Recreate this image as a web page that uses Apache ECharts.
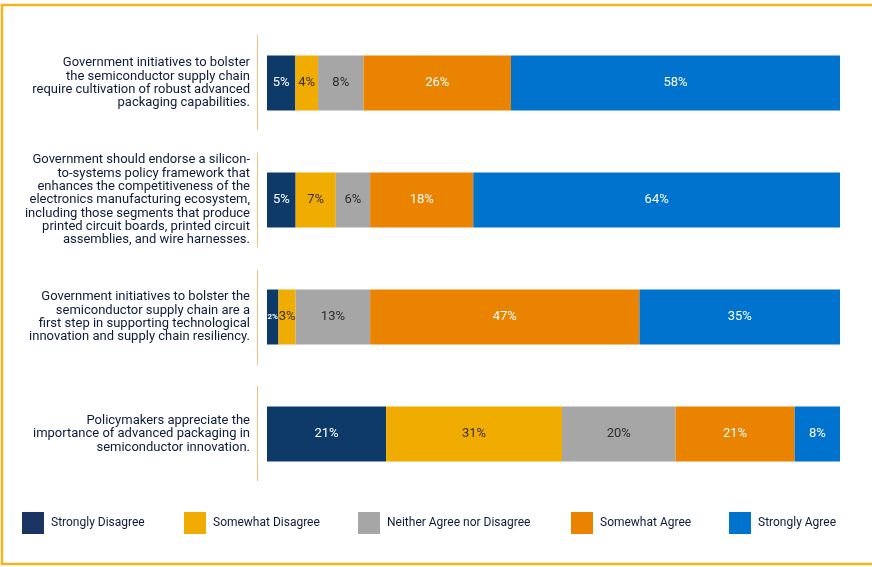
<!DOCTYPE html>
<html>
<head>
<meta charset="utf-8">
<script src="https://cdn.jsdelivr.net/npm/echarts@6/dist/echarts.min.js"></script>
<style>
html,body{margin:0;padding:0;background:#fff;}
#c{width:872px;height:567px;}
</style>
</head>
<body>
<div id="c"></div>
<script>
const categories = [
  "Government initiatives to bolster\nthe semiconductor supply chain\nrequire cultivation of robust advanced\npackaging capabilities.",
  "Government should endorse a silicon-\nto-systems policy framework that\nenhances the competitiveness of the\nelectronics manufacturing ecosystem,\nincluding those segments that produce\nprinted circuit boards, printed circuit\nassemblies, and wire harnesses.",
  "Government initiatives to bolster the\nsemiconductor supply chain are a\nfirst step in supporting technological\ninnovation and supply chain resiliency.",
  "Policymakers appreciate the\nimportance of advanced packaging in\nsemiconductor innovation."
];
const seriesNames = ["Strongly Disagree","Somewhat Disagree","Neither Agree nor Disagree","Somewhat Agree","Strongly Agree"];
const stronglyDisagree = [5, 5, 2, 21];
const somewhatDisagree = [4, 7, 3, 31];
const neither = [8, 6, 13, 20];
const somewhatAgree = [26, 18, 47, 21];
const stronglyAgree = [58, 64, 35, 8];

const values = [stronglyDisagree, somewhatDisagree, neither, somewhatAgree, stronglyAgree];
const colors = ["#0E3A69","#F0AC00","#A6A6A6","#E98300","#0073CF"];
const legendColors = ["#1B3461","#F0AC00","#A6A6A6","#E98300","#0073CF"];
const labelColors = ["#ffffff","#3a3020","#2e2e2e","#ffffff","#ffffff"];
const rowSums = categories.map((_, j) => values.reduce((s, arr) => s + arr[j], 0));
const FONT = "Roboto, sans-serif";

const series = seriesNames.map((name, i) => ({
  name: name,
  type: 'bar',
  stack: 'total',
  barWidth: 55,
  itemStyle: {color: colors[i]},
  label: {
    show: true,
    position: 'inside',
    color: labelColors[i],
    fontFamily: FONT,
    fontSize: 13,
    formatter: p => p.data.raw + '%'
  },
  emphasis: {disabled: true},
  data: values[i].map((v, j) => {
    const d = {value: v / rowSums[j] * 100, raw: v};
    if (v <= 2) d.label = {fontSize: 8, fontWeight: 'bold'};
    return d;
  })
}));

const legendLefts = [22, 184, 358, 571, 729];
const legends = seriesNames.map((n, i) => ({
  data: [{name: n, itemStyle: {color: legendColors[i]}}],
  left: legendLefts[i],
  top: 512,
  padding: 0,
  itemWidth: 22,
  itemHeight: 22,
  itemGap: 8,
  icon: 'rect',
  selectedMode: false,
  textStyle: {fontFamily: FONT, fontSize: 12, color: '#0d1b3a', padding: [0,0,0,2]}
}));

const chart = echarts.init(document.getElementById('c'));
const rowCenters = [82.5, 200, 317.5, 433.5];
chart.setOption({
  animation: false,
  legend: legends,
  grid: {left: 267, right: 32, top: 24.5, bottom: 74.5, containLabel: false},
  xAxis: {type: 'value', min: 0, max: 100, show: false},
  yAxis: {
    type: 'category',
    inverse: true,
    data: categories,
    axisLine: {show: false},
    axisTick: {show: false},
    axisLabel: {
      margin: 17,
      align: 'right',
      fontFamily: FONT,
      fontSize: 13,
      lineHeight: 13.3,
      color: '#0d1b3a'
    }
  },
  graphic: [
    {type: 'rect', shape: {x: 2, y: 5, width: 880, height: 559}, style: {fill: 'none', stroke: '#F5B320', lineWidth: 2.5}, silent: true}
  ].concat(rowCenters.map(c => ({
    type: 'line', shape: {x1: 257.5, y1: c - 47.5, x2: 257.5, y2: c + 47.5},
    style: {stroke: '#F2C27E', lineWidth: 1}, silent: true
  }))),
  series: series
});
</script>
</body>
</html>
